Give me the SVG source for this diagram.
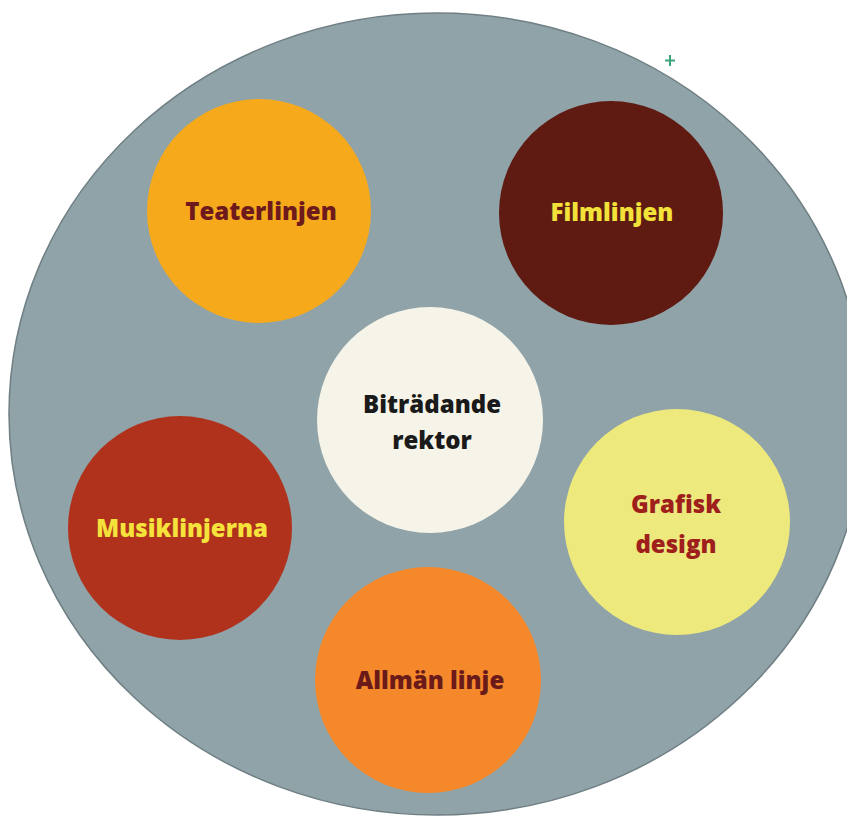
<svg xmlns="http://www.w3.org/2000/svg" width="847" height="816" viewBox="0 0 847 816">
<style>
  .lbl { font-family: "Open Sans", "Noto Sans", "Liberation Sans", sans-serif; font-weight: 800; font-size: 24px; text-anchor: middle; font-variant-ligatures: none; }
  .node { stroke: none; }
</style>
<rect x="0" y="0" width="847" height="816" fill="#ffffff"/>
<g id="background">
  <ellipse cx="437" cy="414" rx="428" ry="401" fill="#8fa3a8" stroke="#6f7f84" stroke-width="1.5"/>
</g>
<g id="plus" stroke="#3aa57a" stroke-width="2">
  <line x1="670" y1="55" x2="670" y2="66"/>
  <line x1="665" y1="60.5" x2="675" y2="60.5"/>
</g>
<g id="connectors"></g>
<g id="teaterlinjen">
  <circle class="node" cx="259" cy="211" r="112" fill="#f7a91c"/>
  <text class="lbl" x="261" y="220" fill="#6e1a1c">Teaterlinjen</text>
</g>
<g id="filmlinjen">
  <circle class="node" cx="611" cy="213" r="112" fill="#5f1a12"/>
  <text class="lbl" x="612" y="221" fill="#f3e23a">Filmlinjen</text>
</g>
<g id="bitradande-rektor">
  <circle class="node" cx="430" cy="420" r="113" fill="#f6f4e8"/>
  <text class="lbl" x="432" y="413" fill="#1a1a1a">Biträdande</text>
  <text class="lbl" x="432" y="449" fill="#1a1a1a">rektor</text>
</g>
<g id="musiklinjerna">
  <circle class="node" cx="180" cy="528" r="112" fill="#b0321d"/>
  <text class="lbl" x="182" y="537" fill="#f5e33c">Musiklinjerna</text>
</g>
<g id="grafisk-design">
  <circle class="node" cx="677" cy="522" r="113" fill="#ede97c"/>
  <text class="lbl" x="676" y="513" fill="#9e1f1c">Grafisk</text>
  <text class="lbl" x="676" y="553" fill="#9e1f1c">design</text>
</g>
<g id="allman-linje">
  <circle class="node" cx="428" cy="680" r="113" fill="#f5882b"/>
  <text class="lbl" x="430" y="689" fill="#6b1a1a">Allmän linje</text>
</g>
</svg>
